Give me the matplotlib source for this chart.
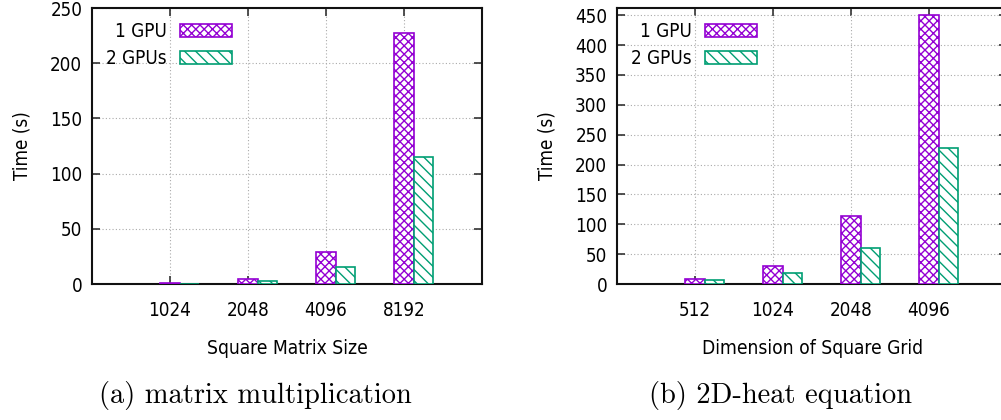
import matplotlib
matplotlib.use('Agg')
import matplotlib.pyplot as plt
import numpy as np

plt.rcParams.update({
    "font.family": "DejaVu Sans",
    "font.stretch": "condensed",
    "font.size": 12,
    "hatch.linewidth": 1.0,
    "axes.linewidth": 1.5,
})

# Data
mm_sizes = ['1024', '2048', '4096', '8192']
mm_1gpu = [0.6, 4.3, 28.7, 227.6]
mm_2gpu = [0.4, 2.4, 15.1, 114.8]

heat_sizes = ['512', '1024', '2048', '4096']
heat_1gpu = [8.4, 29.6, 113.2, 450.0]
heat_2gpu = [6.0, 17.9, 60.2, 227.4]

PURPLE = '#9400d3'
GREEN = '#009e73'
W, H = 1001, 420


def draw_panel(ax, cats, one, two, ylim, yticks, xlabel, caption):
    x = np.arange(1, len(cats) + 1)
    bw = 0.25
    ax.bar(x, one, width=bw, facecolor='white', edgecolor=PURPLE,
           hatch='xxxx', linewidth=1.2, label='1 GPU', zorder=3)
    ax.bar(x + bw, two, width=bw, facecolor='white', edgecolor=GREEN,
           hatch='\\\\\\', linewidth=1.2, label='2 GPUs', zorder=3)
    ax.set_xlim(0, len(cats) + 1)
    ax.set_ylim(*ylim)
    ax.set_xticks(x)
    ax.set_xticklabels(cats)
    ax.set_yticks(yticks)
    ax.tick_params(axis='both', direction='in', top=True, right=True,
                   length=6, width=1.2, color='#333333', labelsize=13.5)
    ax.tick_params(axis='x', pad=12)
    ax.tick_params(axis='y', pad=7)
    ax.grid(True, linestyle=(0, (1, 2)), color='#aaaaaa', linewidth=0.8, zorder=0)
    ax.set_axisbelow(True)
    ax.set_ylabel('Time (s)', fontsize=13.5, labelpad=13)
    ax.set_xlabel(xlabel, fontsize=13.8, labelpad=14)
    for s in ax.spines.values():
        s.set_color('#111111')
    leg = ax.legend(loc='upper left', frameon=False, markerfirst=False,
                    handlelength=2.8, handleheight=0.75, fontsize=13.5,
                    bbox_to_anchor=(0.0, 1.0), borderaxespad=0.35,
                    labelspacing=0.42, handletextpad=0.7)
    for t in leg.get_texts():
        t.set_ha('right')
    # subfigure caption, centred under the whole panel rather than the axes
    ax.text(0.418, -0.405, caption, transform=ax.transAxes, ha='center',
            va='center', fontsize=20.5, family='cmr10')


fig = plt.figure(figsize=(W / 100, H / 100), dpi=100)
ax1 = fig.add_axes([92 / W, (H - 284) / H, 390 / W, 276 / H])
ax2 = fig.add_axes([617 / W, (H - 284) / H, 390 / W, 276 / H])

draw_panel(ax1, mm_sizes, mm_1gpu, mm_2gpu, (0, 250), np.arange(0, 251, 50),
           'Square Matrix Size', '(a) matrix multiplication')
draw_panel(ax2, heat_sizes, heat_1gpu, heat_2gpu, (0, 462), np.arange(0, 451, 50),
           'Dimension of Square Grid', '(b) 2D-heat equation')

fig.savefig('out.png', dpi=100, facecolor='white')
